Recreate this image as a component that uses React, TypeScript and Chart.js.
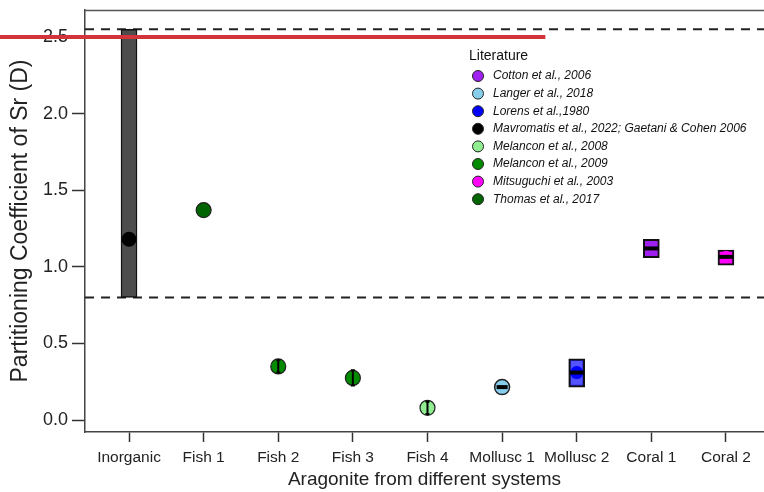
import { useEffect, useRef } from "react";
import { Chart, registerables } from "chart.js";

Chart.register(...registerables);

// Sample categories along the x axis
const categories = [
  "Inorganic",
  "Fish 1",
  "Fish 2",
  "Fish 3",
  "Fish 4",
  "Mollusc 1",
  "Mollusc 2",
  "Coral 1",
  "Coral 2",
];

// Mean partitioning coefficient per category and its +/- error
const meanD = [1.18, 1.37, 0.35, 0.275, 0.08, 0.215, 0.31, 1.12, 1.065];
const errD = [0, 0, 0.04, 0.05, 0.04, 0, 0, 0, 0];
// Which literature source each mean comes from (index into `literature`)
const sourceOf = [3, 7, 5, 5, 4, 1, 2, 0, 6];

// Reported ranges (min/max) drawn as boxes
const rangeCats = [0, 6, 7, 8];
const rangeLow = [0.8, 0.215, 1.06, 1.01];
const rangeHigh = [2.55, 0.4, 1.18, 1.11];

// Median marks
const medianCats = [5, 6, 7, 8];
const medianD = [0.215, 0.31, 1.12, 1.065];

// Inorganic bounds (dashed lines) and highlighted level
const boundaryD = [2.55, 0.8];
const highlightD = 2.5;
const highlightEndCat = 5.58;

const yTicks = [0, 0.5, 1.0, 1.5, 2.0, 2.5];

const literature = [
  "Cotton et al., 2006",
  "Langer et al., 2018",
  "Lorens et al.,1980",
  "Mavromatis et al., 2022; Gaetani & Cohen 2006",
  "Melancon et al., 2008",
  "Melancon et al., 2009",
  "Mitsuguchi et al., 2003",
  "Thomas et al., 2017",
];
const literatureColors = [
  "#A020F0",
  "#87CEEB",
  "#0000FF",
  "#000000",
  "#90EE90",
  "#008B00",
  "#FF00FF",
  "#006400",
];

const FONT = "'Liberation Sans', Arial, Helvetica, sans-serif";

const rangeFill = ["#4d4d4d", "rgba(40,40,255,0.8)", "#A020F0", "#FF00FF"];
const rangeBorderWidth = [1.5, 2, 2, 2];
const dotRadius = [7.5, 7.5, 7.5, 7.5, 7.5, 7.5, 6.5, 6, 6];
const dotBorderWidth = [0, 1.2, 1.2, 1.2, 1.2, 1.5, 0, 0, 0];
const medianRadius = [5.5, 7, 7, 7];

const decorations = {
  id: "decorations",
  beforeDatasetsDraw(chart: any) {
    const { ctx, chartArea, scales } = chart;
    const y = scales.y;
    ctx.save();
    // top frame line
    ctx.strokeStyle = "#555";
    ctx.lineWidth = 1.5;
    ctx.beginPath();
    ctx.moveTo(chartArea.left, chartArea.top + 0.5);
    ctx.lineTo(chartArea.right, chartArea.top + 0.5);
    ctx.stroke();
    // dashed bounds
    ctx.strokeStyle = "#222";
    ctx.lineWidth = 2;
    ctx.setLineDash([9, 7]);
    boundaryD.forEach((v) => {
      const py = y.getPixelForValue(v);
      ctx.beginPath();
      ctx.moveTo(chartArea.left, py);
      ctx.lineTo(chartArea.right, py);
      ctx.stroke();
    });
    ctx.restore();
  },
  afterDatasetsDraw(chart: any) {
    const { ctx, scales } = chart;
    const x = scales.x;
    const y = scales.y;
    ctx.save();
    ctx.strokeStyle = "#000";
    ctx.lineWidth = 2;
    meanD.forEach((v, i) => {
      if (!errD[i]) return;
      const px = x.getPixelForValue(i);
      const y1 = y.getPixelForValue(v - errD[i]);
      const y2 = y.getPixelForValue(v + errD[i]);
      ctx.beginPath();
      ctx.moveTo(px, y1);
      ctx.lineTo(px, y2);
      ctx.moveTo(px - 2, y1);
      ctx.lineTo(px + 2, y1);
      ctx.moveTo(px - 2, y2);
      ctx.lineTo(px + 2, y2);
      ctx.stroke();
    });
    ctx.restore();
  },
  afterDraw(chart: any) {
    const { ctx, scales } = chart;
    const x = scales.x;
    const y = scales.y;
    ctx.save();
    // highlighted level
    const hy = y.getPixelForValue(highlightD);
    ctx.strokeStyle = "#D1343A";
    ctx.lineWidth = 4;
    ctx.beginPath();
    ctx.moveTo(0, hy);
    ctx.lineTo(x.getPixelForValue(highlightEndCat), hy);
    ctx.stroke();

    // literature legend
    const lx = 469;
    const ly = 56;
    ctx.fillStyle = "#111";
    ctx.textBaseline = "middle";
    ctx.textAlign = "left";
    ctx.font = `14px ${FONT}`;
    ctx.fillText("Literature", lx, ly);
    ctx.font = `italic 12px ${FONT}`;
    literature.forEach((name, i) => {
      const ey = 76 + i * 17.6;
      ctx.beginPath();
      ctx.arc(lx + 9, ey, 5.5, 0, Math.PI * 2);
      ctx.fillStyle = literatureColors[i];
      ctx.fill();
      ctx.strokeStyle = "#222";
      ctx.lineWidth = 1;
      ctx.stroke();
      ctx.fillStyle = "#111";
      ctx.fillText(name, lx + 24, ey);
    });
    ctx.restore();
  },
};

export default function App() {
  const canvasRef = useRef<HTMLCanvasElement | null>(null);

  useEffect(() => {
    if (!canvasRef.current) return;
    const chart = new Chart(canvasRef.current, {
      type: "scatter",
      data: {
        datasets: [
          {
            type: "bar",
            label: "Range",
            data: rangeCats.map((c, i) => ({ x: c, y: [rangeLow[i], rangeHigh[i]] })) as any,
            backgroundColor: rangeFill,
            borderColor: "#111",
            borderWidth: rangeBorderWidth,
            borderSkipped: false,
            barThickness: 16,
            order: 3,
          } as any,
          {
            type: "scatter",
            label: "Mean",
            data: meanD.map((v, i) => ({ x: i, y: v })),
            pointRadius: dotRadius,
            pointBackgroundColor: sourceOf.map((s) => literatureColors[s]),
            pointBorderColor: "#222",
            pointBorderWidth: dotBorderWidth,
            order: 2,
          },
          {
            type: "scatter",
            label: "Median",
            data: medianCats.map((c, i) => ({ x: c, y: medianD[i] })),
            pointStyle: "line",
            pointRadius: medianRadius,
            pointBorderColor: "#000",
            pointBorderWidth: 4,
            order: 1,
          },
        ],
      },
      options: {
        animation: false,
        responsive: false,
        devicePixelRatio: 1,
        layout: { autoPadding: false, padding: { top: 10, right: 0, left: 0, bottom: 0 } },
        plugins: {
          legend: { display: false },
          tooltip: { enabled: false },
        },
        scales: {
          x: {
            type: "linear",
            min: -0.59,
            max: 8.51,
            offset: false,
            afterBuildTicks: (axis: any) => {
              axis.ticks = categories.map((_, i) => ({ value: i }));
            },
            afterFit: (axis: any) => {
              axis.height = 60;
              axis.paddingLeft = 0;
              axis.paddingRight = 0;
            },
            ticks: {
              autoSkip: false,
              maxRotation: 0,
              padding: 6,
              color: "#222",
              font: { family: FONT, size: 15.5 },
              callback: (v: any) => categories[Math.round(Number(v))],
            },
            grid: {
              display: true,
              drawOnChartArea: false,
              drawTicks: true,
              tickLength: 10,
              tickColor: "#333",
              tickWidth: 1.5,
              offset: false,
            },
            border: { display: true, color: "#444", width: 1.5 },
            title: {
              display: true,
              text: "Aragonite from different systems",
              color: "#222",
              font: { family: FONT, size: 19 },
              padding: { top: 0, bottom: 0.5 },
            },
          },
          y: {
            type: "linear",
            min: -0.078,
            max: 2.676,
            afterBuildTicks: (axis: any) => {
              axis.ticks = yTicks.map((v) => ({ value: v }));
            },
            afterFit: (axis: any) => {
              axis.width = 85;
              axis.paddingTop = 0;
              axis.paddingBottom = 0;
            },
            ticks: {
              padding: 4,
              color: "#222",
              font: { family: FONT, size: 18 },
              callback: (v: any) => Number(v).toFixed(1),
            },
            grid: {
              display: true,
              drawOnChartArea: false,
              drawTicks: true,
              tickLength: 13,
              tickColor: "#333",
              tickWidth: 1.5,
            },
            border: { display: true, color: "#444", width: 1.5 },
            title: {
              display: true,
              text: "Partitioning Coefficient of Sr (D)",
              color: "#222",
              font: { family: FONT, size: 23 },
              padding: { top: 7, bottom: 0 },
            },
          },
        },
      },
      plugins: [decorations],
    });
    return () => chart.destroy();
  }, []);

  return (
    <div style={{ position: "absolute", left: 0, top: 0, width: 764, height: 492, background: "#fff" }}>
      <canvas ref={canvasRef} width={764} height={492} style={{ display: "block" }} />
    </div>
  );
}
